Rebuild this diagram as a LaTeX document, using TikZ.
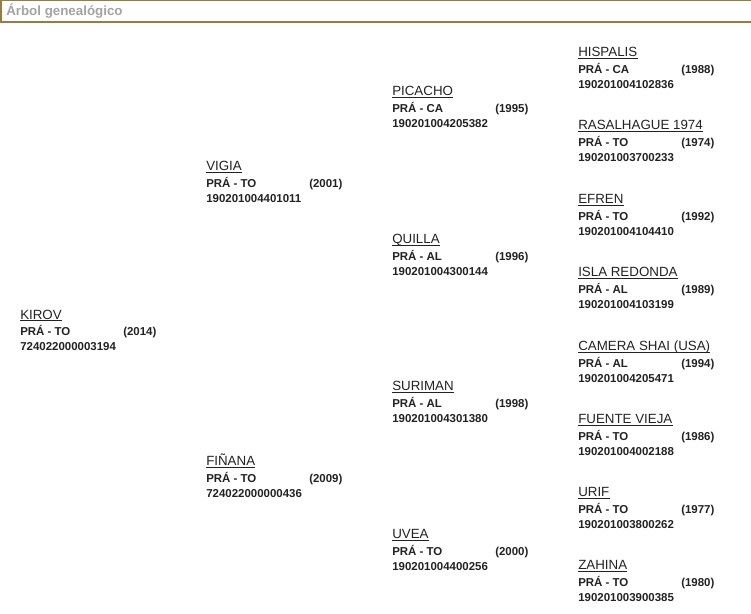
\documentclass[tikz,border=0pt]{standalone}
\usepackage{fontspec}
\setmainfont{Liberation Sans}
\definecolor{frame}{HTML}{9C7B43}
\definecolor{ttl}{HTML}{A3A3A3}
\definecolor{ink}{HTML}{222222}
\tikzset{
  nm/.style={anchor=base west, inner sep=0pt, text=ink, font=\fontsize{10}{12}\selectfont},
  dt/.style={anchor=base west, inner sep=0pt, text=ink, font=\fontsize{8.6}{10}\selectfont\bfseries},
  ul/.style={draw=ink, line width=0.75pt},
}
\newcommand\horse[7]{%
  \node[nm] (#1) at (#2,#3) {#4};
  \draw[ul] ([yshift=-1.3pt]#1.base west) -- ([yshift=-1.3pt]#1.base east);
  \node[dt] (#1l) at (#2,#3+16.3) {#5};
  \node[dt] (#1y) at (#2+103,#3+16.3) {(#6)};
  \node[dt] (#1c) at (#2,#3+31.3) {#7};
}
\begin{document}
\begin{tikzpicture}[x=0.75pt,y=-0.75pt]
\useasboundingbox (0,0) rectangle (751,614);
\draw[frame, line width=0.9pt] (1,0.6) rectangle (760,22);
\node[anchor=base west, inner sep=0pt, text=ttl, font=\fontsize{10}{12}\selectfont\bfseries] (title) at (6,15.8) {Árbol genealógico};
% generation 1
\horse{kirov}{20}{319}{KIROV}{PRÁ - TO}{2014}{724022000003194}
% generation 2
\horse{vigia}{206}{170.8}{VIGIA}{PRÁ - TO}{2001}{190201004401011}
\horse{finana}{206}{465.8}{FIÑANA}{PRÁ - TO}{2009}{724022000000436}
% generation 3
\horse{picacho}{392}{95.8}{PICACHO}{PRÁ - CA}{1995}{190201004205382}
\horse{quilla}{392}{243.8}{QUILLA}{PRÁ - AL}{1996}{190201004300144}
\horse{suriman}{392}{390.8}{SURIMAN}{PRÁ - AL}{1998}{190201004301380}
\horse{uvea}{392}{538.8}{UVEA}{PRÁ - TO}{2000}{190201004400256}
% generation 4
\horse{hispalis}{578}{56.8}{HISPALIS}{PRÁ - CA}{1988}{190201004102836}
\horse{rasalhague}{578}{129.8}{RASALHAGUE 1974}{PRÁ - TO}{1974}{190201003700233}
\horse{efren}{578}{203.8}{EFREN}{PRÁ - TO}{1992}{190201004104410}
\horse{isla}{578}{276.8}{ISLA REDONDA}{PRÁ - AL}{1989}{190201004103199}
\horse{camera}{578}{350.8}{CAMERA SHAI (USA)}{PRÁ - AL}{1994}{190201004205471}
\horse{fuente}{578}{423.8}{FUENTE VIEJA}{PRÁ - TO}{1986}{190201004002188}
\horse{urif}{578}{496.8}{URIF}{PRÁ - TO}{1977}{190201003800262}
\horse{zahina}{578}{569.8}{ZAHINA}{PRÁ - TO}{1980}{190201003900385}
\end{tikzpicture}
\end{document}
